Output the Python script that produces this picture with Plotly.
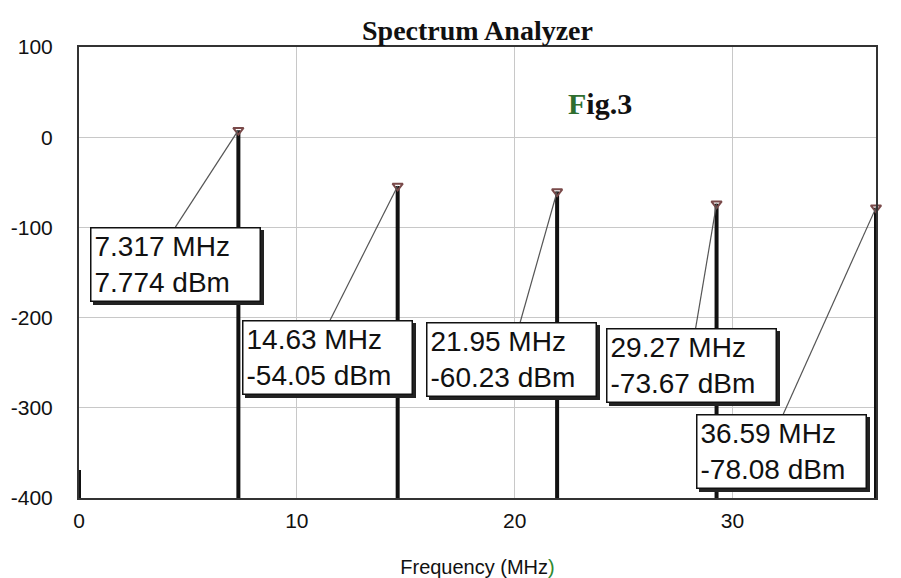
import plotly.graph_objects as go

# ---- data ----
freq_mhz = [0.0, 7.317, 14.63, 21.95, 29.27, 36.59]
level_dbm = [-369.0, 7.774, -54.05, -60.23, -73.67, -78.08]
marker_freqs = [7.317, 14.63, 21.95, 29.27, 36.59]
marker_levels = [7.774, -54.05, -60.23, -73.67, -78.08]
marker_labels = ["7.317 MHz<br>7.774 dBm", "14.63 MHz<br>-54.05 dBm", "21.95 MHz<br>-60.23 dBm",
                 "29.27 MHz<br>-73.67 dBm", "36.59 MHz<br>-78.08 dBm"]
x_tickvals = [0, 10, 20, 30, 36.59]
x_ticktext = ["0", "10", "20", "30", "36.59"]
y_tickvals = [100, 0, -100, -200, -300, -400]
y_ticktext = ["100", "0", "-100", "-200", "-300", "-400"]
floor_dbm = -400

# label box offsets (pixels from the marker point to the box centre)
label_ax = [-63, -70, -46, -25, -95]
label_ay = [134, 172, 168, 162, 244]
# where each leader line leaves the top of its box (pixel offset from the box centre)
leader_dx = [0, 2, 9, 4, 2]
box_half_h = 37

# ---- build spectral lines from the data ----
xs, ys = [], []
for f, v in zip(freq_mhz, level_dbm):
    xs += [f, f, None]
    ys += [floor_dbm, v, None]

fig = go.Figure()
fig.add_trace(go.Scatter(x=xs, y=ys, mode="lines",
                         line=dict(color="#111111", width=4), hoverinfo="skip",
                         showlegend=False))
fig.add_trace(go.Scatter(x=marker_freqs, y=marker_levels, mode="markers",
                         marker=dict(symbol="triangle-down-open", size=9,
                                     color="#7a4a4a", line=dict(width=2)),
                         cliponaxis=False, showlegend=False))

ann = []
shapes = []
for f, v, t, ax, ay, dx in zip(marker_freqs, marker_levels, marker_labels,
                               label_ax, label_ay, leader_dx):
    # leader line from the marker to the top of the label box
    shapes.append(dict(type="line", xref="x", yref="y",
                       xsizemode="pixel", ysizemode="pixel", xanchor=f, yanchor=v,
                       x0=0, y0=0, x1=ax + dx, y1=-(ay - box_half_h),
                       line=dict(color="#555555", width=1.2), layer="above"))
    common = dict(x=f, y=v, xref="x", yref="y", showarrow=True,
                  ax=ax, ay=ay, arrowhead=0, width=162, height=66, align="left",
                  borderpad=3, arrowcolor="rgba(0,0,0,0)")
    # drop shadow (empty box, offset down-right)
    ann.append(dict(common, text=" ", xshift=3, yshift=-3, bgcolor="#222222",
                    bordercolor="#222222", borderwidth=1.5,
                    font=dict(family="Arial", size=28, color="#222222")))
    ann.append(dict(common, text=t, bgcolor="white", bordercolor="#111111", borderwidth=1.5,
                    font=dict(family="Arial", size=28, color="#111111")))

ann.append(dict(x=23.9, y=37, xref="x", yref="y", showarrow=False, yanchor="middle",
                text="<b><span style='color:#2f6e2f'>F</span>ig.3</b>",
                font=dict(family="Liberation Serif", size=30, color="#111111")))

fig.update_layout(
    width=893, height=570,
    margin=dict(l=71, r=25, t=39, b=80),
    paper_bgcolor="white", plot_bgcolor="white",
    title=dict(text="<b>Spectrum Analyzer</b>", x=0.5, xref="paper", y=0.961,
               yanchor="middle", xanchor="center",
               font=dict(family="Liberation Serif", size=28, color="#111111")),
    annotations=ann,
    shapes=shapes,
    font=dict(family="Arial", color="#111111"),
    showlegend=False,
)
fig.update_xaxes(range=[0, 36.59], tickvals=x_tickvals, ticktext=x_ticktext,
                 showgrid=True, gridcolor="#c8c8c8", gridwidth=1,
                 showline=True, linecolor="#333333", linewidth=2, mirror=True,
                 zeroline=False, ticks="", ticklabelstandoff=3, automargin=False,
                 tickfont=dict(family="Arial", size=21, color="#111111"),
                 title=dict(text="Frequency (MHz<span style='color:#2f8a2f'>)</span>",
                            font=dict(family="Arial", size=20, color="#111111"),
                            standoff=29))
fig.update_yaxes(range=[-400, 100], tickvals=y_tickvals, ticktext=y_ticktext,
                 showgrid=True, gridcolor="#c8c8c8", gridwidth=1,
                 showline=True, linecolor="#333333", linewidth=2, mirror=True,
                 zeroline=False, ticks="", ticklabelstandoff=20, automargin=False,
                 tickfont=dict(family="Arial", size=21, color="#111111"))

fig.write_html("out.html")
